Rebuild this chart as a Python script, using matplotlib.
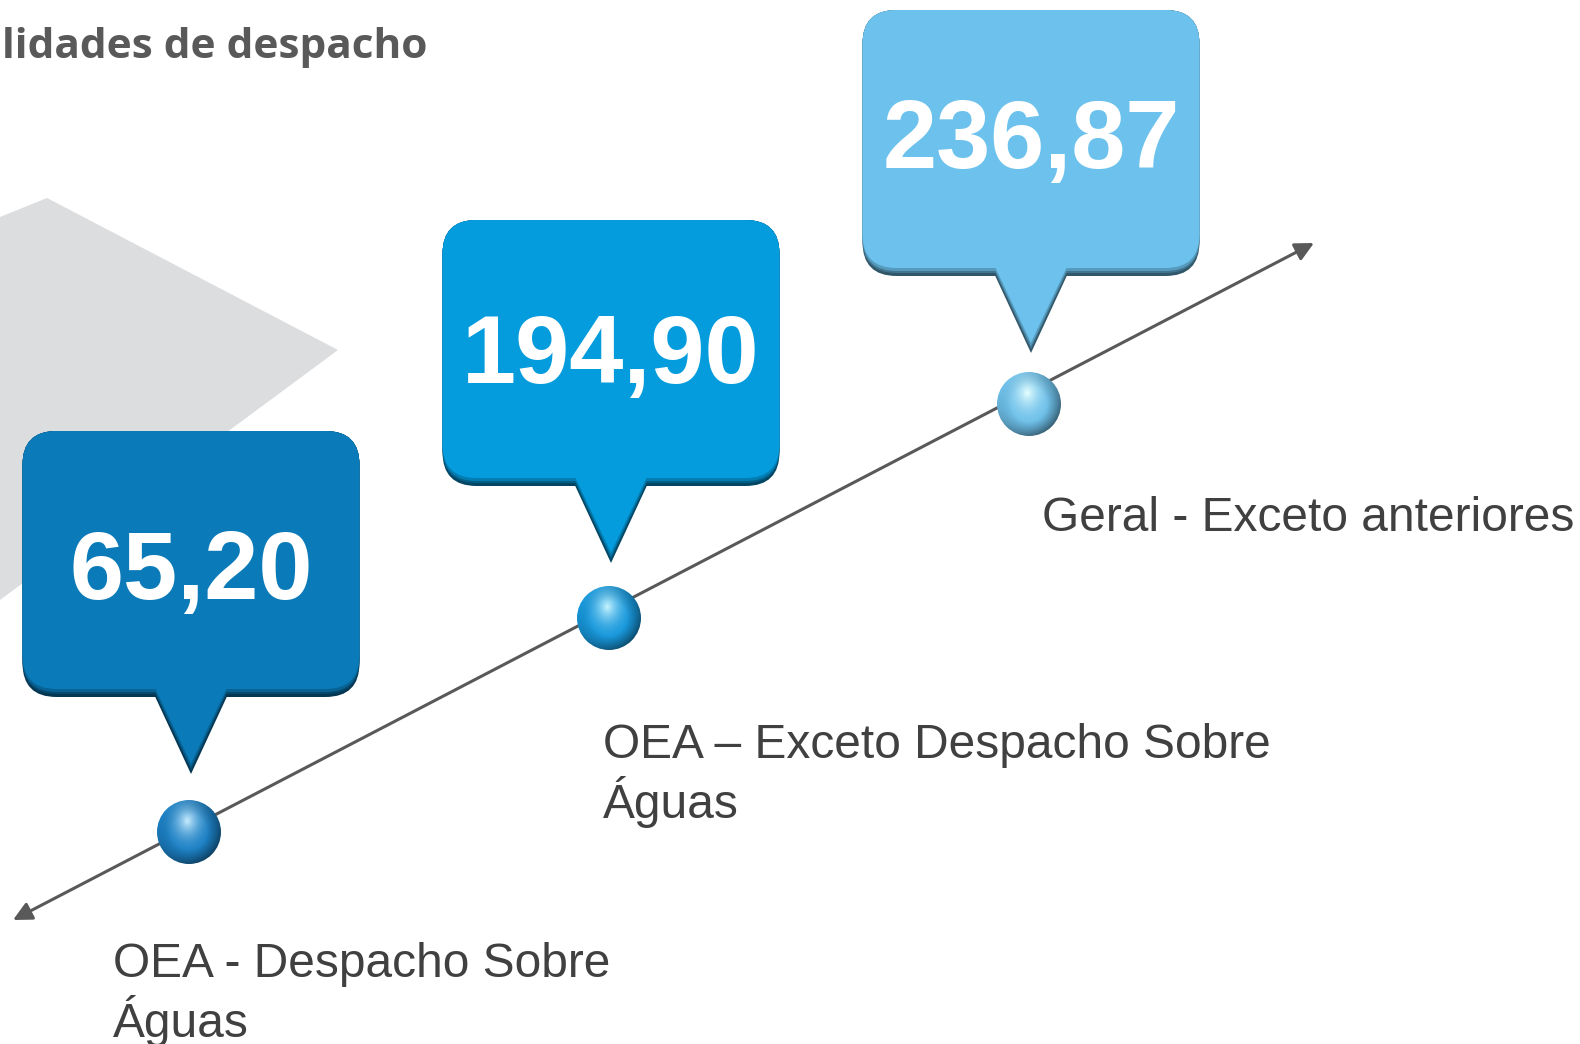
import numpy as np
import matplotlib
matplotlib.use("Agg")
import matplotlib.pyplot as plt
from matplotlib.patches import FancyBboxPatch, Polygon, Circle

# dados
valores = [65.20, 194.90, 236.87]
rotulos = ["OEA - Despacho Sobre\nÁguas",
           "OEA – Exceto Despacho Sobre\nÁguas",
           "Geral - Exceto anteriores"]
titulo = "lidades de despacho"

cores_caixa = ["#0A7AB8", "#049CDD", "#6CC2EC"]
cores_bola = ["#1C80C4", "#1898DC", "#6EC0EA"]

W, H = 1580, 1044
fig = plt.figure(figsize=(W / 100, H / 100), dpi=100)
ax = fig.add_axes([0, 0, 1, 1])
ax.set_xlim(0, W)
ax.set_ylim(H, 0)
ax.axis("off")

# forma cinza ao fundo
ax.add_patch(Polygon([(0, 217), (47, 198), (338, 350), (0, 600)],
                     closed=True, color="#DCDDDF", lw=0, zorder=0))

ax.text(2, 47, titulo, fontsize=30.5, fontweight="bold", color="#595959",
        family=["Open Sans", "DejaVu Sans"], va="center", ha="left")

# eixo diagonal com setas nas duas pontas
p0 = np.array([13, 920])
p1 = np.array([1314, 243])
ax.annotate("", xy=p1, xytext=p0,
            arrowprops=dict(arrowstyle="<|-|>", color="#595959", lw=2.2,
                            mutation_scale=28, shrinkA=0, shrinkB=0), zorder=1)


def escurece(c, f):
    rgb = np.array(matplotlib.colors.to_rgb(c))
    return tuple(rgb * f)


def bola(cx, cy, r, cor):
    n = 160
    yy, xx = np.mgrid[-1:1:n * 1j, -1:1:n * 1j]
    base = np.array(matplotlib.colors.to_rgb(cor))
    claro = np.minimum(base * 0.35 + 0.75, 1)
    d = np.sqrt((xx + 0.05) ** 2 * 1.6 + (yy + 0.35) ** 2)
    t = np.clip(d / 1.1, 0, 1)[..., None]
    img = claro * (1 - t) ** 2 + base * (1 - (1 - t) ** 2)
    rim = np.sqrt(xx ** 2 + yy ** 2)
    sombra = np.clip((rim - 0.55) / 0.45, 0, 1)[..., None] * np.clip(0.5 + 0.5 * (xx + yy) / 1.4, 0, 1)[..., None]
    img = img * (1 - 0.5 * sombra)
    im = ax.imshow(np.clip(img, 0, 1), extent=(cx - r, cx + r, cy + r, cy - r),
                   origin="upper", zorder=4, interpolation="bilinear")
    circ = Circle((cx, cy), r, transform=ax.transData, facecolor="none", edgecolor="none")
    ax.add_patch(circ)
    im.set_clip_path(circ)


def balao(tx, ty, cor, texto, dy_txt):
    bw, bh = 337, 266
    x0 = tx - bw / 2
    top = ty - 343
    fundo = top + bh
    # camadas de sombra embaixo
    for k, (f, dy) in enumerate([(0.45, 0), (0.6, 3), (0.8, 5), (1.0, 8)]):
        c = escurece(cor, f)
        ax.add_patch(FancyBboxPatch((x0, top), bw, bh - dy,
                                    boxstyle="round,pad=0,rounding_size=34",
                                    facecolor=c, edgecolor="none", zorder=2 + k * 0.1))
        ax.add_patch(Polygon([(tx - 45, fundo - dy - 20), (tx + 45, fundo - dy - 20), (tx, ty - dy * 1.3)],
                             closed=True, facecolor=c, edgecolor="none", zorder=2 + k * 0.1))
    ax.text(tx, top + bh / 2 + dy_txt, texto, fontsize=70, fontweight="bold", color="white",
            family=["Liberation Sans", "DejaVu Sans"], ha="center", va="center", zorder=3)


bolas_x = [189 + 420 * i for i in range(len(valores))]
bolas_y = [832 - 214 * i for i in range(len(valores))]
folga = [58, 55, 51]
txt_dy = [10, 5, 0]
rot_pos = [(113, 960), (603, 741), (1042, 514)]

for i, v in enumerate(valores):
    bx, by = bolas_x[i], bolas_y[i]
    bola(bx, by, 32, cores_bola[i])
    texto = f"{v:.2f}".replace(".", ",")
    balao(bx + 2, by - folga[i], cores_caixa[i], texto, txt_dy[i])
    lx, ly = rot_pos[i]
    ax.text(lx, ly - 18, rotulos[i], fontsize=34.5, color="#404040",
            family=["Liberation Sans", "DejaVu Sans"], ha="left", va="top",
            linespacing=1.18)

fig.savefig("out.png", dpi=100)
